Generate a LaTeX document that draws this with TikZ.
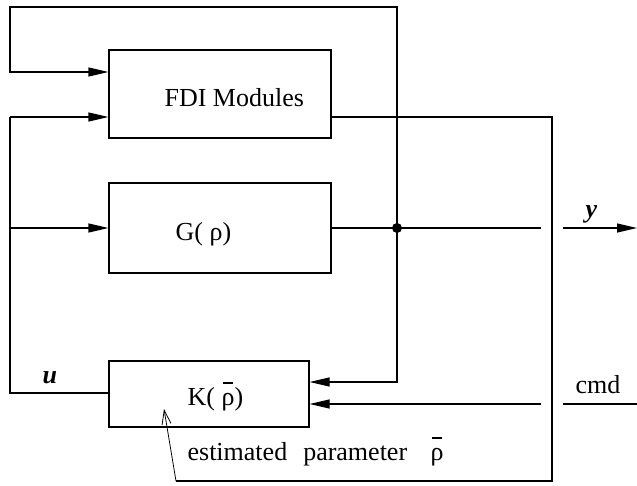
\documentclass[tikz,border=0pt]{standalone}
\usepackage{fontspec}
\setmainfont{Liberation Serif}
\usetikzlibrary{arrows.meta}
\newcommand\rhobar{\ooalign{ρ\cr\hidewidth\rule[0.82em]{0.36em}{0.05em}\hidewidth\cr}}
\begin{document}
\begin{tikzpicture}[x=1pt,y=-1pt,
  line width=1.2pt,
  box/.style={draw, rectangle, inner sep=0pt},
  lbl/.style={inner sep=0pt, anchor=base west, font=\fontsize{26}{30}\selectfont},
  arr/.style={-{Triangle[length=20pt,width=9pt]}},
  thinarr/.style={line width=0.8pt, -{Straight Barb[length=14pt,width=9pt]}},
  dot/.style={circle, fill, inner sep=0pt, minimum size=10pt}]
\useasboundingbox (0,0) rectangle (637,485);

% blocks
\node[box, minimum width=222pt, minimum height=88pt] (fdi) at (220,94) {};
\node[box, minimum width=222pt, minimum height=90pt] (g)   at (220,228) {};
\node[box, minimum width=200pt, minimum height=66pt] (k)   at (209,394) {};

% block texts
\node[lbl] (fdit) at (164,106) {FDI Modules};
\node[lbl] (gt)   at (175,240) {G( ρ)};
\node[lbl] (kt)   at (187,405) {K( \rhobar)};

% routing points
\node[dot] (jn) at (397,228) {};
\coordinate (a1) at (10,72);
\coordinate (tl) at (10,7);
\coordinate (l1) at (10,117);
\coordinate (l2) at (10,228);
\coordinate (l3) at (10,393);
\coordinate (k1) at (397,382);
\coordinate (gp) at (541,228);
\coordinate (ys) at (563,228);
\coordinate (ye) at (637,228);
\coordinate (c1) at (541,404);
\coordinate (c2) at (563,404);
\coordinate (c3) at (637,404);
\coordinate (f1) at (552,117);
\coordinate (f2) at (552,481);
\coordinate (f3) at (176,481);
\coordinate (f4) at (164,409);

% measured output feedback to FDI and K
\draw[arr] (jn.center) |- (tl) -- (a1) -- (a1 -| fdi.west);
\draw[arr] (jn.center) -- (k1) -- (k1 -| k.east);

% plant output
\draw (g.east) -- (gp);
\draw[arr] (ys) -- (ye);

% command input
\draw[arr] (c1) -- (c1 -| k.east);
\draw (c2) -- (c3);

% control signal u
\draw[arr] (l1) -- (l1 -| fdi.west);
\draw[arr] (l2) -- (g.west);
\draw (l1) -- (l3) -- (l3 -| k.west);

% FDI estimate back to controller
\draw (fdi.east |- f1) -- (f1) -- (f2) -- (f3);
\draw[thinarr] (f3) -- (f4);

% signal labels
\node[lbl] (ul)   at (42,383)  {\textbf{\textit{u}}};
\node[lbl] (yl)   at (585,217) {\textbf{\textit{y}}};
\node[lbl] (cmdl) at (575,393) {cmd};
\node[lbl] (est)  at (187,460) {estimated\hspace{16pt}parameter};
\node[lbl] (estr) at (430,460) {\rhobar};
\end{tikzpicture}
\end{document}
